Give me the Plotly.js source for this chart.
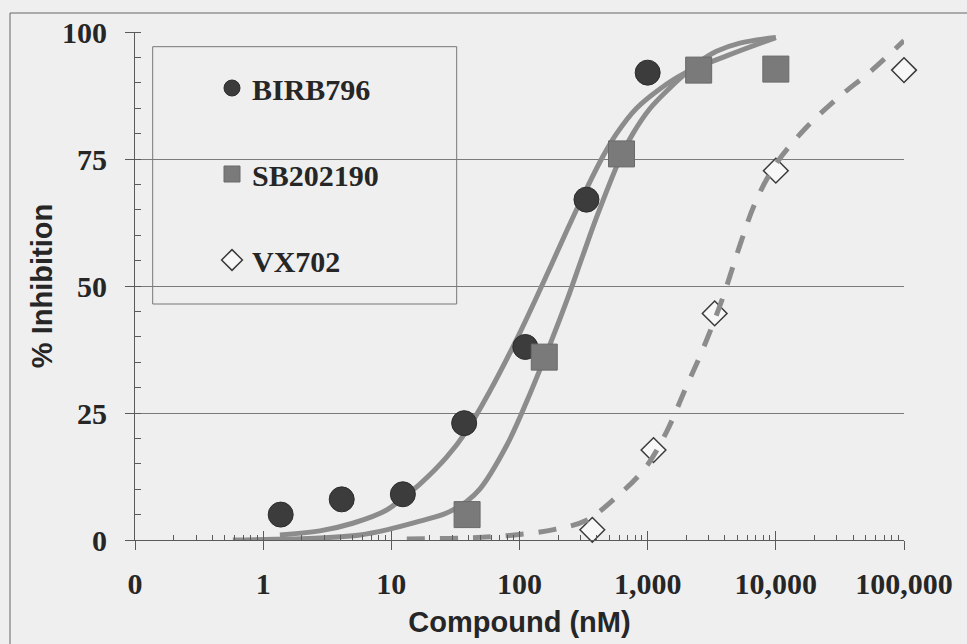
<!DOCTYPE html>
<html>
<head>
<meta charset="utf-8">
<script src="https://cdn.plot.ly/plotly-3.0.1.min.js"></script>
<style>
  html, body { margin: 0; padding: 0; background: #efefef; }
  #chart { width: 967px; height: 644px; }
</style>
</head>
<body>
<div id="chart"></div>
<script>
// ---- data ----
const birbX = [1.37, 4.1, 12.3, 37, 111, 333, 1000];
const birbY = [5, 8, 9, 23, 38, 67, 92];

const sbX = [39, 156, 625, 2500, 10000];
const sbY = [5, 36, 76, 92.5, 92.7];

const vxX = [370, 1111, 3333, 10000, 100000];
const vxY = [2, 17.7, 44.6, 72.7, 92.5];

// fitted curves
const birbFitX = [1.35, 2.77, 5.0, 9.2, 12.0, 16.7, 27, 38.7, 58.7, 95, 149, 240, 324, 447, 572, 819, 1245, 1883, 4128, 10000];
const birbFitY = [1.0, 1.8, 3.3, 5.9, 8.1, 11.0, 16.3, 21.5, 29.3, 39.5, 50.0, 61.5, 68.5, 75.5, 80.0, 85.0, 88.8, 91.7, 95.3, 98.9];

const sbFitX = [0.58, 2.77, 5.7, 9.2, 16.7, 27, 38.7, 49, 79, 114, 173, 233, 312, 399, 607, 767, 1040, 1490, 2010, 2553, 3445, 5240, 10000];
const sbFitY = [0, 0.4, 1.0, 2.0, 3.7, 5.3, 7.6, 10.0, 18.5, 27.3, 38.5, 47.0, 56.0, 63.5, 75.0, 80.0, 84.9, 89.0, 92.0, 94.2, 96.2, 97.8, 98.9];

const vxFitX = [13.2, 37.5, 84, 189, 334, 538, 951, 1404, 1950, 2711, 3793, 5240, 6855, 9820, 16830, 29730, 55720, 100000];
const vxFitY = [0.2, 0.4, 0.9, 2.1, 3.9, 7.9, 14.1, 21.3, 29.5, 37.7, 47.2, 58.0, 66.2, 73.7, 80.9, 86.8, 92.4, 98.3];

const seriesNames = ['BIRB796', 'SB202190', 'VX702'];

const xTickVals = [0.1, 1, 10, 100, 1000, 10000, 100000];
const xTickText = ['0', '1', '10', '100', '1,000', '10,000', '100,000'];
const yTickVals = [0, 25, 50, 75, 100];

// ---- styling ----
const BG = '#efefef';
const CURVE = '#8c8c8c';
const TXT = '#262626';
const AX = '#5a5a5a';
const serif = 'Liberation Serif, Times New Roman, serif';
const sans = 'Liberation Sans, Arial, sans-serif';

const xMinor = [];
for (let d = -1; d < 5; d++) {
  for (let k = 2; k <= 9; k++) xMinor.push(k * Math.pow(10, d));
}

const traces = [
  { x: birbFitX, y: birbFitY, mode: 'lines', type: 'scatter', showlegend: false, hoverinfo: 'skip',
    line: { color: CURVE, width: 5, shape: 'spline', smoothing: 1 } },
  { x: sbFitX, y: sbFitY, mode: 'lines', type: 'scatter', showlegend: false, hoverinfo: 'skip',
    line: { color: CURVE, width: 5, shape: 'spline', smoothing: 1 } },
  { x: vxX, y: vxY, name: seriesNames[2], mode: 'markers', type: 'scatter', cliponaxis: false,
    legendgroup: 'c', legendrank: 3,
    marker: { symbol: 'diamond', size: 19, color: '#f7f7f7', line: { color: '#3a3a3a', width: 1.5 } } },
  { x: vxFitX, y: vxFitY, xaxis: 'x2', mode: 'lines', type: 'scatter', showlegend: false, hoverinfo: 'skip',
    line: { color: CURVE, width: 5, dash: '18px,15px', shape: 'spline', smoothing: 1 } },
  { x: birbX, y: birbY, name: seriesNames[0], mode: 'markers', type: 'scatter', cliponaxis: false,
    legendgroup: 'a', legendrank: 1,
    marker: { symbol: 'circle', size: 25, color: '#3c3c3c', line: { color: '#2c2c2c', width: 1 } } },
  { x: sbX, y: sbY, name: seriesNames[1], mode: 'markers', type: 'scatter', cliponaxis: false,
    legendgroup: 'b', legendrank: 2,
    marker: { symbol: 'square', size: 26, color: '#7a7a7a', line: { color: '#6a6a6a', width: 1 } } }
];

const plotL = 135, plotR = 904, plotT = 32, plotB = 540;
const pw = plotR - plotL, ph = plotB - plotT;
const px = v => (v - plotL) / pw;
const py = v => (plotB - v) / ph;

const layout = {
  width: 967, height: 644,
  paper_bgcolor: BG, plot_bgcolor: BG,
  margin: { l: plotL, r: 967 - plotR, t: plotT, b: 644 - plotB, pad: 0 },
  showlegend: true,
  legend: {
    x: px(212), y: py(62), xanchor: 'left', yanchor: 'top',
    bgcolor: 'rgba(0,0,0,0)', borderwidth: 0,
    traceorder: 'grouped', tracegroupgap: 44,
    font: { family: serif, size: 30, color: TXT, weight: 'bold' },
    itemsizing: 'trace'
  },
  xaxis: {
    type: 'log', range: [-1, 5], autorange: false,
    tickmode: 'array', tickvals: xTickVals, ticktext: xTickText,
    ticks: 'outside', ticklen: 9, tickwidth: 1, tickcolor: AX,
    showline: true, linecolor: AX, linewidth: 1,
    showgrid: false, zeroline: false,
    ticklabelstandoff: 8,
    tickfont: { family: serif, size: 30, color: TXT, weight: 'bold' },
    minor: { tickmode: 'array', tickvals: xMinor, ticks: 'inside', ticklen: 5, tickcolor: AX, tickwidth: 1, showgrid: false },
    title: { text: 'Compound (nM)', font: { family: sans, size: 29, color: TXT, weight: 'bold' }, standoff: 12 }
  },
  xaxis2: {
    type: 'log', range: [-1, 5], autorange: false, overlaying: 'x', anchor: 'y', side: 'bottom',
    tickmode: 'array', tickvals: xTickVals, ticks: 'inside', ticklen: 9, tickwidth: 1, tickcolor: AX,
    showticklabels: false, showline: false, showgrid: false, zeroline: false
  },
  yaxis: {
    range: [0, 100], autorange: false,
    tickmode: 'array', tickvals: yTickVals,
    ticks: 'outside', ticklen: 9, tickwidth: 1, tickcolor: AX,
    showline: true, linecolor: AX, linewidth: 1,
    showgrid: true, gridcolor: '#7a7a7a', gridwidth: 1, zeroline: false,
    ticklabelstandoff: 12,
    tickfont: { family: serif, size: 30, color: TXT, weight: 'bold' },
    minor: { dtick: 5, ticks: 'inside', ticklen: 6, tickcolor: AX, tickwidth: 1, showgrid: false },
    title: { text: '% Inhibition', font: { family: sans, size: 29, color: TXT, weight: 'bold' }, standoff: 0 }
  },
  shapes: [
    { type: 'rect', xref: 'paper', yref: 'paper', layer: 'below',
      x0: px(10), x1: px(990), y0: py(670), y1: py(13),
      line: { color: '#666', width: 1 }, fillcolor: 'rgba(0,0,0,0)' },
    { type: 'rect', xref: 'paper', yref: 'paper', layer: 'between',
      x0: px(152.7), x1: px(456.7), y0: py(304), y1: py(46.7),
      line: { color: '#777', width: 1 }, fillcolor: BG }
  ]
};

Plotly.newPlot('chart', traces, layout, { displayModeBar: false, staticPlot: true });
</script>
</body>
</html>
